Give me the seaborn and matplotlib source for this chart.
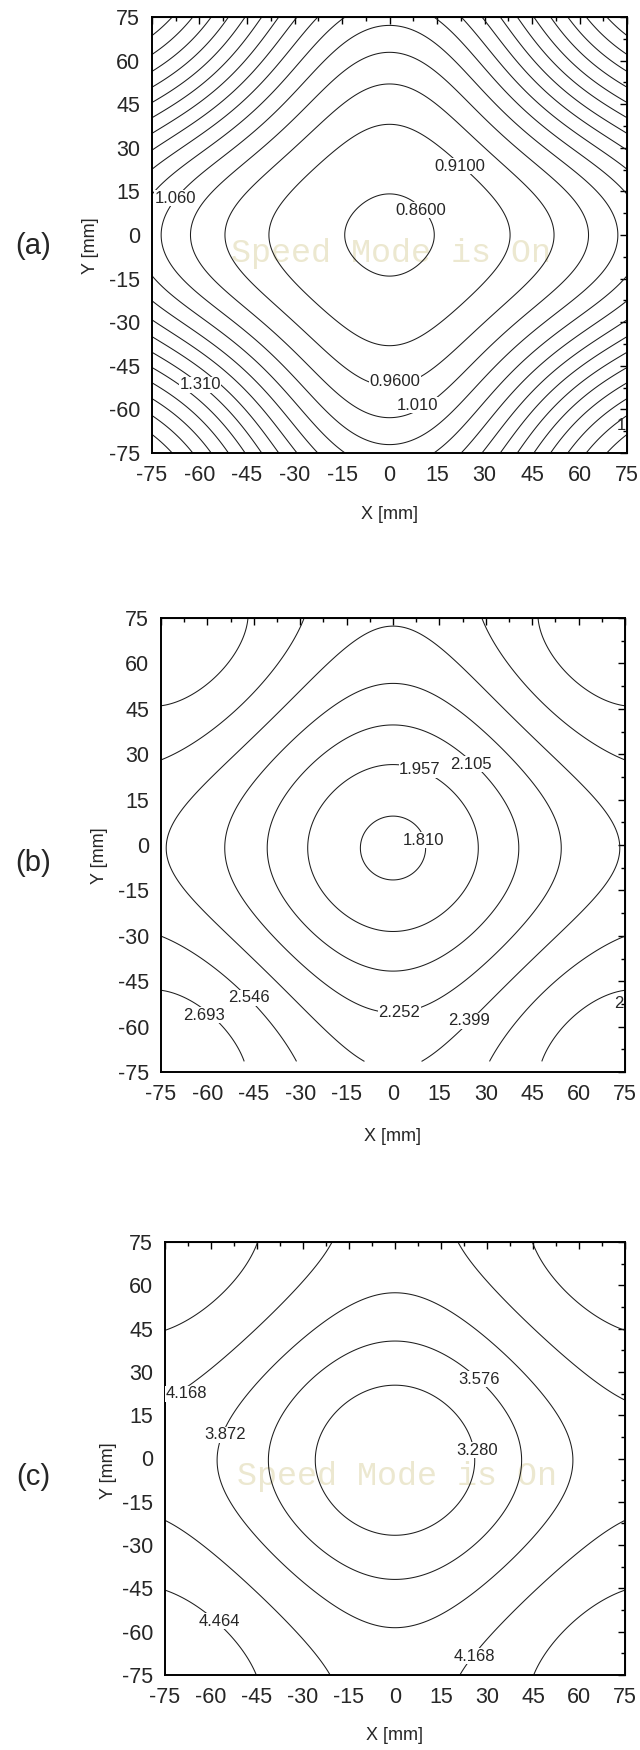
import numpy as np
import matplotlib
matplotlib.use("Agg")
import matplotlib.pyplot as plt
import seaborn as sns
from matplotlib import font_manager
from matplotlib.ticker import MultipleLocator

sns.set_style("white")
installed = {f.name for f in font_manager.fontManager.ttflist}
narrow = "Liberation Sans Narrow" if "Liberation Sans Narrow" in installed else "Liberation Sans"
tick_size = 17 if narrow == "Liberation Sans Narrow" else 15.5
plt.rcParams["font.family"] = ["Liberation Sans", "DejaVu Sans"]
plt.rcParams["axes.unicode_minus"] = False

ticks = [-75, -60, -45, -30, -15, 0, 15, 30, 45, 60, 75]

levels_a = [0.86, 0.91, 0.96, 1.01, 1.06, 1.11, 1.16, 1.21, 1.26, 1.31,
            1.36, 1.41, 1.46, 1.51, 1.56]
levels_b = [1.810, 1.957, 2.105, 2.252, 2.399, 2.546, 2.693]
levels_c = [3.280, 3.576, 3.872, 4.168, 4.464]

# surfaces fitted to the contour positions
# (a), (b): centre value, hyperbolic slope, core width, quadratic term, corner coupling, y shift
shape_a = [0.852, 0.0, 1.0, 4.0e-5, 0.30, 0.0]
shape_b = [1.780, 0.03684, 40.0, -1.831e-4, 0.35, -1.0]
# (c): centre value, linear term, quadratic term, warp half-length, y shift
shape_c = [3.0199, 1.261, -0.2024, 85.0, -0.6]

# y range covered by the measured grid
grid_a = (-75, 75)
grid_b = (-71.5, 75)
grid_c = (-75, 75)

# contour labels: (level index, x, y)
labels_a = [(1, 22.2, 23.7), (0, 10.0, 8.6), (4, -67.5, 12.7),
            (2, 1.7, -50.4), (3, 8.7, -58.6), (9, -59.8, -51.6)]
labels_b = [(1, 8.7, 24.8), (2, 25.2, 26.7), (0, 10.0, 1.5),
            (5, -46.6, -50.4), (6, -61.2, -56.3), (3, 2.1, -55.5),
            (4, 24.5, -58.0)]
labels_c = [(1, 27.5, 27.4), (3, -68.0, 22.4), (2, -55.3, 8.2),
            (0, 26.9, 2.8), (4, -57.3, -56.3), (3, 25.8, -68.5)]
# labels cut by the right frame: only the first character shows
cut_a = [(13, 74.6, -65.4)]
cut_b = [(6, 74.6, -52.3)]
cut_c = []


def surface(x, y, c, k, s0, a, B, y0):
    yy = y - y0
    r2 = x**2 + yy**2
    hx = (1 - np.cos(np.pi * x / 75)) / 2
    hy = (1 - np.cos(np.pi * yy / 75)) / 2
    return c + k * (np.sqrt(r2 + s0**2) - s0) + a * r2 + B * hx * hy


def surface_warped(x, y, c, A, Q, L, y0):
    yy = y - y0
    u = np.sin(np.pi * x / (2 * L))**2 + np.sin(np.pi * yy / (2 * L))**2
    return c + A * u + Q * u**2


def panel(ax, levels, Z, X, Y, labels, cut, watermark):
    ax.contour(X, Y, Z, levels=levels, colors="#1e1e1e", linewidths=0.75, zorder=2)

    if watermark:
        ax.text(0.5, -6.4, "Speed Mode is On", fontfamily="Liberation Mono",
                fontsize=24, color="#ece8d0", ha="center", va="center", zorder=1)

    for i, lx, ly in labels:
        ax.text(lx, ly, f"{levels[i]:#.4g}", fontsize=12, ha="center", va="center",
                bbox=dict(fc="white", ec="none", pad=0.4), zorder=3)
    for i, lx, ly in cut:
        ax.text(lx, ly, f"{levels[i]:#.4g}"[0], fontsize=12, ha="right", va="center", zorder=3)

    ax.set_xlim(-75, 75)
    ax.set_ylim(-75, 75)
    ax.set_xticks(ticks, labels=[str(t) for t in ticks], fontfamily=narrow, fontsize=tick_size)
    ax.set_yticks(ticks, labels=[str(t) for t in ticks], fontfamily=narrow, fontsize=tick_size)
    ax.xaxis.set_minor_locator(MultipleLocator(7.5))
    ax.yaxis.set_minor_locator(MultipleLocator(7.5))
    ax.tick_params(which="major", direction="out", length=5.5, width=1.1, pad=3, color="black")
    ax.tick_params(which="minor", direction="out", length=3, width=1.0, color="black")
    for sp in ax.spines.values():
        sp.set_linewidth(1.4)
        sp.set_color("black")

    top = ax.secondary_xaxis("top")
    top.set_xticks(ticks)
    top.xaxis.set_minor_locator(MultipleLocator(7.5))
    top.tick_params(which="both", direction="in", labeltop=False, width=1.0, color="black")
    top.tick_params(which="major", length=5)
    top.tick_params(which="minor", length=3)
    right = ax.secondary_yaxis("right")
    right.set_yticks(ticks)
    right.yaxis.set_minor_locator(MultipleLocator(7.5))
    right.tick_params(which="both", direction="in", labelright=False, width=1.0, color="black")
    right.tick_params(which="major", length=5)
    right.tick_params(which="minor", length=3)

    ax.set_xlabel("X [mm]", fontsize=13)
    ax.set_ylabel("Y [mm]", fontsize=13)
    ax.xaxis.label.set_va("center")
    ax.yaxis.label.set_va("center")


def grid(yr):
    x = np.linspace(-75, 75, 301)
    y = np.linspace(yr[0], yr[1], 301)
    return np.meshgrid(x, y)


W, H = 640, 1750
fig = plt.figure(figsize=(W / 100, H / 100), dpi=100)

ax_a = fig.add_axes([152 / W, 1 - 453 / H, 475 / W, 436 / H])
ax_b = fig.add_axes([161 / W, 1 - 1072 / H, 464 / W, 454 / H])
ax_c = fig.add_axes([165 / W, 1 - 1675 / H, 460 / W, 433 / H])

Xa, Ya = grid(grid_a)
Xb, Yb = grid(grid_b)
Xc, Yc = grid(grid_c)
panel(ax_a, levels_a, surface(Xa, Ya, *shape_a), Xa, Ya, labels_a, cut_a, True)
panel(ax_b, levels_b, surface(Xb, Yb, *shape_b), Xb, Yb, labels_b, cut_b, False)
panel(ax_c, levels_c, surface_warped(Xc, Yc, *shape_c), Xc, Yc, labels_c, cut_c, True)

ax_a.xaxis.set_label_coords(0.5, -0.14)
ax_b.xaxis.set_label_coords(0.5, -0.143)
ax_c.xaxis.set_label_coords(0.5, -0.139)
ax_a.yaxis.set_label_coords(-0.129, 0.475)
ax_b.yaxis.set_label_coords(-0.132, 0.476)
ax_c.yaxis.set_label_coords(-0.123, 0.473)

for tag, yc in [("(a)", 246), ("(b)", 863), ("(c)", 1477)]:
    fig.text(33 / W, 1 - yc / H, tag, fontsize=21, ha="center", va="center")

fig.savefig("out.png", dpi=100, facecolor="white")
